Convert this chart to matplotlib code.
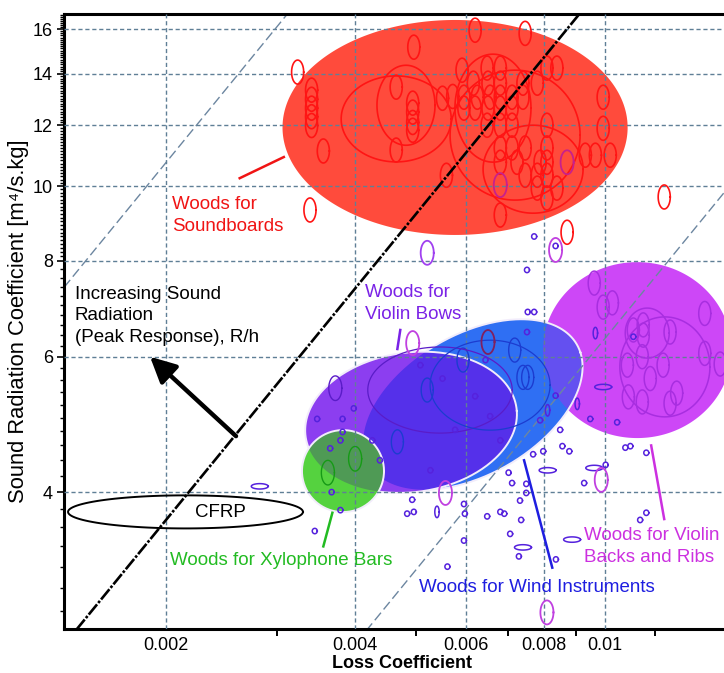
import numpy as np
import matplotlib.pyplot as plt
from matplotlib.ticker import FixedLocator, NullFormatter

plt.rcParams['font.family'] = ['Liberation Sans', 'DejaVu Sans']

## axis ticks
x_ticks = [0.002, 0.004, 0.006, 0.008, 0.01]
x_labels = ["0.002", "0.004", "0.006", "0.008", "0.01"]
x_minor = [0.003, 0.005, 0.007, 0.009, 0.012]
y_ticks = [4, 6, 8, 10, 12, 14, 16]
y_labels = ["4", "6", "8", "10", "12", "14", "16"]

## wood families: centre (loss, radiation), half range in decades, tilt
fam_names = ["Soundboards", "Violin Backs and Ribs", "Wind Instruments", "Violin Bows", "Xylophone Bars"]
fam_loss = [0.00577, 0.01125, 0.00616, 0.00491, 0.003826]
fam_srad = [11.92, 6.12, 5.20, 4.93, 4.26]
fam_dloss = [0.2747, 0.150, 0.184, 0.169, 0.0653]
fam_dsrad = [0.1398, 0.1144, 0.0944, 0.091, 0.0533]
fam_tilt = [0, 0, 21.6, 5, 0]

## soundboard species
sb_loss = [0.00324, 0.00341, 0.00341, 0.00341, 0.00341, 0.00341, 0.00356, 0.00465,
           0.00494, 0.00494, 0.00494, 0.00494, 0.00465, 0.00496, 0.00551, 0.00572,
           0.00559, 0.00339, 0.00592, 0.00596, 0.00621, 0.00746,
           0.00649, 0.00681, 0.00808, 0.00838,
           0.00617, 0.00651, 0.00681, 0.00740, 0.00780,
           0.00596, 0.00626, 0.00656, 0.00681, 0.00711, 0.00740,
           0.00621, 0.00651, 0.00681, 0.00711,
           0.00649, 0.00681, 0.00711, 0.00808,
           0.00681, 0.00711, 0.00746, 0.00808,
           0.00930, 0.00965, 0.01019,
           0.00681, 0.00724, 0.00788, 0.00808,
           0.00746, 0.00780, 0.00808,
           0.00780, 0.00838, 0.00808, 0.00681,
           0.00993, 0.00993, 0.01242, 0.00870]
sb_srad = [14.07, 13.33, 12.97, 12.63, 12.31, 11.99, 11.11, 13.45,
           12.82, 12.48, 12.10, 11.82, 11.14, 15.16, 13.01, 13.08,
           10.33, 9.31, 14.15, 12.63, 15.95, 15.80,
           14.24, 14.24, 14.24, 14.24,
           13.61, 13.61, 13.61, 13.61, 13.61,
           13.05, 13.05, 13.05, 13.05, 13.05, 13.05,
           12.63, 12.63, 12.63, 12.63,
           12.0, 12.0, 12.0, 12.0,
           11.21, 11.21, 11.21, 11.21,
           10.97, 10.97, 10.97,
           10.74, 10.74, 10.74, 10.74,
           10.33, 10.33, 10.33,
           9.94, 9.94, 9.65, 9.17,
           13.05, 11.89, 9.68, 8.71]
sb_groups = [(0.00465, 12.23, 0.0876, 0.0559), (0.00482, 12.74, 0.0462, 0.052),
             (0.00663, 12.63, 0.0605, 0.0702), (0.00768, 10.52, 0.0796, 0.0572),
             (0.00719, 11.65, 0.1035, 0.0845)]

## violin back species
bk_loss = [0.00961, 0.00993, 0.01027, 0.01441, 0.01109, 0.01150, 0.01150, 0.01269, 0.01085,
           0.01146, 0.01237, 0.01441, 0.01525, 0.01180, 0.01089, 0.01146, 0.01269, 0.01300]
bk_srad = [7.48, 6.96, 7.05, 6.83, 6.50, 6.60, 6.40, 6.46, 5.85,
           6.00, 5.85, 6.06, 5.87, 5.62, 5.32, 5.24, 5.22, 5.38]
bk_groups = [(0.01245, 5.82, 0.0717, 0.065), (0.01167, 6.44, 0.035, 0.0325)]

## wind / bow / xylophone species inside the blobs
wind_loss = [0.00467, 0.00521, 0.00594, 0.00718, 0.00740, 0.00753]
wind_srad = [4.65, 5.43, 5.94, 6.12, 5.64, 5.64]
bow_loss = [0.00372]
bow_srad = [5.46]
xylo_loss = [0.00362, 0.00400]
xylo_srad = [4.24, 4.42]
inner_groups = [(0.00546, 5.43, 0.115, 0.056), (0.00656, 5.51, 0.0955, 0.0585)]

## single measured samples
pt_loss = [0.00493, 0.00484, 0.00496, 0.00596, 0.00598, 0.00596, 0.00649, 0.00681, 0.00691,
           0.00735, 0.00706, 0.00729, 0.00561, 0.00835, 0.00732, 0.00749, 0.00749, 0.00711,
           0.00702, 0.00768, 0.00797, 0.00855, 0.00877, 0.01002, 0.00926, 0.01077, 0.01097,
           0.01163, 0.01163, 0.01137, 0.00345, 0.00379, 0.00771, 0.00834, 0.00751, 0.00753,
           0.00771, 0.00751, 0.00348, 0.00382, 0.00398, 0.00382, 0.00365, 0.00379, 0.00508,
           0.00551, 0.00621, 0.00656, 0.00577, 0.00681, 0.00788, 0.00426, 0.00438, 0.00527,
           0.00645, 0.00834, 0.00848, 0.00367, 0.01109, 0.01045, 0.00947]
pt_srad = [3.91, 3.75, 3.77, 3.86, 3.75, 3.46, 3.72, 3.77, 3.75,
           3.68, 3.53, 3.30, 3.20, 3.27, 3.90, 3.99, 4.10, 4.11,
           4.24, 4.48, 4.52, 4.59, 4.52, 4.34, 4.11, 4.57, 4.59,
           4.50, 3.76, 3.68, 3.56, 3.79, 8.60, 8.36, 7.78, 6.86,
           6.86, 6.46, 4.98, 4.98, 5.14, 4.79, 4.56, 4.67, 5.85,
           5.62, 5.33, 5.02, 4.82, 4.67, 4.96, 4.67, 4.40, 4.27,
           5.94, 5.34, 4.82, 4.00, 6.37, 4.93, 4.98]
wide_loss = [0.00740, 0.00810, 0.00961, 0.00886, 0.00282, 0.00993]
wide_srad = [3.39, 4.27, 4.30, 3.47, 4.07, 5.48]
tall_loss = [0.00540, 0.00965, 0.00810, 0.00903]
tall_srad = [3.77, 6.44, 5.11, 5.21]
odd_loss = [0.00521, 0.00494, 0.00834, 0.00557, 0.00986, 0.00808, 0.00681, 0.00870, 0.00651]
odd_srad = [8.19, 6.25, 8.26, 3.99, 4.15, 2.79, 10.03, 10.74, 6.27]
odd_col = ["#a040f0", "#c040e0", "#c040e0", "#c040e0", "#c040e0", "#c040e0",
           "#c8208c", "#c8208c", "#802060"]

## CFRP and lines of constant R/h
cfrp = (0.002148, 3.77, 0.187, 0.0215)
rh_main = 1840
rh_side = [634, 5366]


def ell(cx, cy, a, b, ang=0.0, n=120):
    t = np.linspace(0, 2 * np.pi, n)
    r = np.deg2rad(ang)
    u, v = a * np.cos(t), b * np.sin(t)
    du = u * np.cos(r) - v * np.sin(r)
    dv = u * np.sin(r) + v * np.cos(r)
    return cx * 10 ** du, cy * 10 ** dv


fig = plt.figure(figsize=(7.24, 6.73), dpi=100)
ax = fig.add_axes([0.0884, 0.0654, 0.934, 0.9137])
ax.set_xscale('log')
ax.set_yscale('log')
xlim = (0.001376, 0.01641)
ax.set_xlim(*xlim)
ax.set_ylim(2.655, 16.74)

## big filled blobs
fills = ["#ff4b3c", "#cd47f7", "#2f6ff3", "#8c3ef0", "#55d23f"]
polys = []
for i in range(5):
    x, y = ell(fam_loss[i], fam_srad[i], fam_dloss[i], fam_dsrad[i], fam_tilt[i], 300)
    p = ax.fill(x, y, color=fills[i], lw=0, zorder=1 + 0.1 * i)[0]
    polys.append((p, x, y))

# darker where blobs overlap
for top, below, col in [(2, 1, "#6450f0"), (3, 2, "#5530ea"), (4, 3, "#4f9a55")]:
    _, x, y = polys[top]
    p = ax.fill(x, y, color=col, lw=0, zorder=1.05 + 0.1 * top)[0]
    p.set_clip_path(polys[below][0])
for i in [2, 3, 4]:
    _, x, y = polys[i]
    ax.plot(x, y, color="#f2ecfb", lw=1.4, zorder=1.08 + 0.1 * i)

## species outlines
for cx, cy in zip(sb_loss, sb_srad):
    ax.plot(*ell(cx, cy, 0.0096, 0.0156), color="#ff1414", lw=1.2, zorder=3)
for g in sb_groups:
    ax.plot(*ell(*g), color="#ff1414", lw=1.2, zorder=3)
for cx, cy in zip(bk_loss, bk_srad):
    ax.plot(*ell(cx, cy, 0.0096, 0.0156), color="#a82ee0", lw=1.1, zorder=3)
for g in bk_groups:
    ax.plot(*ell(*g), color="#a82ee0", lw=1.1, zorder=3)
for cx, cy in zip(wind_loss, wind_srad):
    ax.plot(*ell(cx, cy, 0.0096, 0.0156), color="#1c3cd0", lw=1.0, zorder=3)
for cx, cy in zip(bow_loss, bow_srad):
    ax.plot(*ell(cx, cy, 0.0104, 0.016), color="#5a1cc8", lw=1.0, zorder=3)
for cx, cy in zip(xylo_loss, xylo_srad):
    ax.plot(*ell(cx, cy, 0.0104, 0.016), color="#169a16", lw=1.0, zorder=3)
ax.plot(*ell(*inner_groups[0]), color="#5a1cc8", lw=0.9, zorder=3)
ax.plot(*ell(*inner_groups[1]), color="#1c3cd0", lw=0.9, zorder=3)
for cx, cy in zip(pt_loss, pt_srad):
    ax.plot(*ell(cx, cy, 0.004, 0.0035, 0, 30), color="#5522dd", lw=1.1, zorder=3)
for cx, cy in zip(wide_loss, wide_srad):
    ax.plot(*ell(cx, cy, 0.0135, 0.0035, 0, 40), color="#5522dd", lw=1.1, zorder=3)
for cx, cy in zip(tall_loss, tall_srad):
    ax.plot(*ell(cx, cy, 0.0035, 0.0075, 0, 30), color="#5522dd", lw=1.1, zorder=3)
for cx, cy, c in zip(odd_loss, odd_srad, odd_col):
    ax.plot(*ell(cx, cy, 0.0104, 0.0156), color=c, lw=1.3, zorder=3)

## CFRP
ax.plot(*ell(*cfrp), color="black", lw=1.4, zorder=4)
ax.text(0.00244, 3.76, "CFRP", fontsize=13.5, ha="center", va="center", zorder=5)

## constant R/h lines
xs = np.array(xlim)
for k in rh_side:
    ax.plot(xs, k * xs, color="#6c86a0", lw=1.0, dashes=(7, 3), zorder=2)
ax.plot(xs, rh_main * xs, color="black", lw=1.9, dashes=(5, 0.7, 1, 0.7), zorder=4)

ax.annotate("", xy=(0.001886, 6.0), xytext=(0.002585, 4.73),
            arrowprops=dict(arrowstyle="-|>,head_length=0.7,head_width=0.35", lw=3.2,
                            color="black", shrinkA=0, shrinkB=0, mutation_scale=22),
            zorder=5)
ax.text(0.00143, 6.78, "Increasing Sound\nRadiation\n(Peak Response), R/h",
        fontsize=13.5, ha="left", va="center", linespacing=1.35, zorder=5)

## labels with leader lines
fs = 13.5
ax.text(0.002044, 9.16, "Woods for\nSoundboards", color="#f01414", fontsize=fs,
        ha="left", va="center", linespacing=1.35, zorder=5)
ax.plot([0.00262, 0.00308], [10.24, 10.91], color="#f01414", lw=1.8, zorder=5)
ax.text(0.00415, 7.04, "Woods for\nViolin Bows", color="#7a22e6", fontsize=fs,
        ha="left", va="center", linespacing=1.35, zorder=5)
ax.plot([0.00472, 0.00467], [6.50, 6.14], color="#7a22e6", lw=1.8, zorder=5)
ax.text(0.00203, 3.26, "Woods for Xylophone Bars", color="#22bb22", fontsize=fs,
        ha="left", va="center", zorder=5)
ax.plot([0.00368, 0.00356], [3.76, 3.40], color="#22bb22", lw=1.8, zorder=5)
ax.text(0.00506, 3.01, "Woods for Wind Instruments", color="#1e1ee0", fontsize=fs,
        ha="left", va="center", zorder=5)
ax.plot([0.00743, 0.00824], [4.40, 3.19], color="#1e1ee0", lw=1.8, zorder=5)
ax.text(0.00926, 3.40, "Woods for Violin\nBacks and Ribs", color="#cc30e0", fontsize=fs,
        ha="left", va="center", linespacing=1.35, zorder=5)
ax.plot([0.01184, 0.01242], [4.60, 3.69], color="#cc30e0", lw=1.8, zorder=5)

## axes styling
ax.set_xticks(x_ticks)
ax.set_xticklabels(x_labels)
ax.xaxis.set_minor_locator(FixedLocator(x_minor))
ax.xaxis.set_minor_formatter(NullFormatter())
ax.set_yticks(y_ticks)
ax.set_yticklabels(y_labels)
y_minor = [v for v in np.round(np.concatenate([np.arange(2.8, 8.0, 0.2), np.arange(8.1, 16.8, 0.1)]), 2)
           if v not in y_ticks]
ax.yaxis.set_minor_locator(FixedLocator(y_minor))
ax.yaxis.set_minor_formatter(NullFormatter())
ax.tick_params(axis='both', which='major', labelsize=13, direction='out', width=1.2)
ax.tick_params(axis='x', which='major', length=0, pad=6)
ax.tick_params(axis='x', which='minor', length=5, width=1.4)
ax.tick_params(axis='y', which='major', length=5, pad=3)
ax.tick_params(axis='y', which='minor', length=3, width=1.0)

ax.set_axisbelow(False)
ax.grid(True, which='major', color="#5f7f96", lw=1.0, dashes=(3, 2))
for s in ['top', 'bottom', 'left']:
    ax.spines[s].set_linewidth(2.2)
ax.spines['right'].set_visible(False)

ax.set_ylabel("Sound Radiation Coefficient [m\u2074/s.kg]", fontsize=15.8)
ax.yaxis.set_label_coords(-0.052, 0.5)
ax.set_xlabel("Loss Coefficient", fontsize=13, fontweight='bold')
ax.xaxis.set_label_coords(0.5, -0.043)

fig.savefig("out.png", dpi=100)
